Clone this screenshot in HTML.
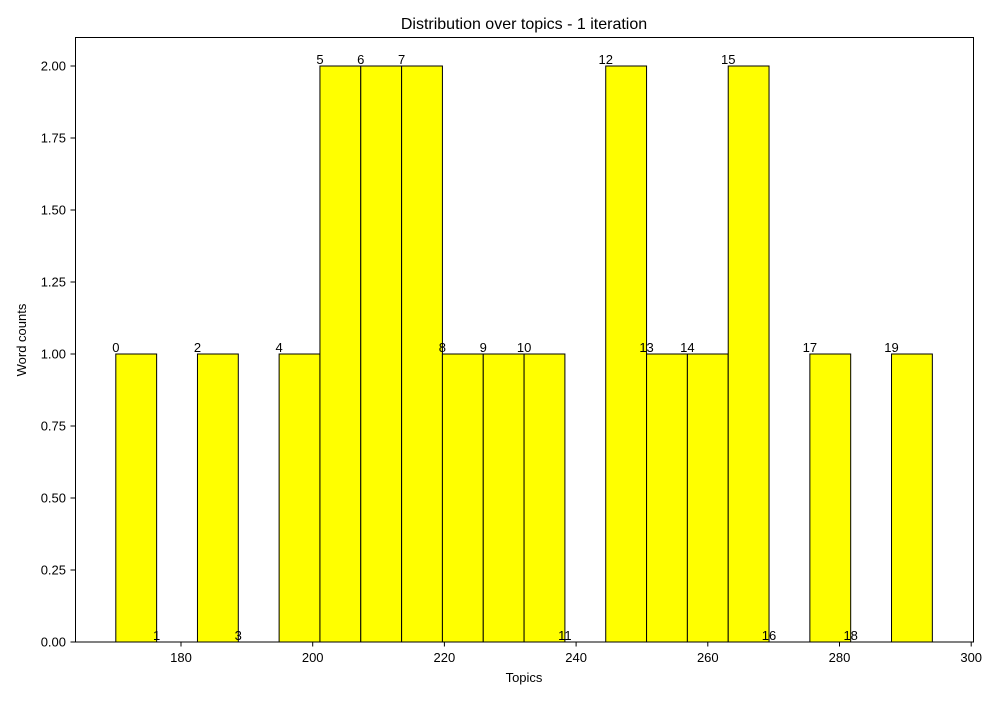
<!DOCTYPE html>
<html><head><meta charset="utf-8"><style>
body{margin:0;background:#fff;font-family:"Liberation Sans","DejaVu Sans",sans-serif}
svg text{font-family:"Liberation Sans","DejaVu Sans",sans-serif;font-size:13px;fill:#000}
</style></head><body>
<svg id="chart" width="1000" height="700" xmlns="http://www.w3.org/2000/svg">
<rect width="1000" height="700" fill="#fff"/>
<text x="524" y="29" text-anchor="middle" style="font-size:16px">Distribution over topics - 1 iteration</text>
<g id="bars"></g>
<g id="labels"></g>
<g id="xaxis"></g>
<g id="yaxis"></g>
<rect x="75.5" y="37.5" width="898" height="604.5" fill="none" stroke="#000" stroke-width="1"/>
<text x="524" y="682" text-anchor="middle">Topics</text>
<text transform="translate(26,340) rotate(-90)" text-anchor="middle">Word counts</text>
</svg>
<script>
const binStart = 170.1;
const binWidth = 6.2;
const topics = [0,1,2,3,4,5,6,7,8,9,10,11,12,13,14,15,16,17,18,19];
const counts = [1,0,1,0,1,2,2,2,1,1,1,0,2,1,1,2,0,1,0,1];
const xTicks = [180,200,220,240,260,280,300];
const yTicks = [0,0.25,0.5,0.75,1,1.25,1.5,1.75,2];
const NS = "http://www.w3.org/2000/svg";
function xs(v){return 181 + (v-180)*6.585;}
function ys(v){return 642 - v*288;}
function mk(tag, attrs, parent){const e=document.createElementNS(NS,tag);for(const k in attrs)e.setAttribute(k,attrs[k]);document.getElementById(parent).appendChild(e);return e;}
counts.forEach((c,i)=>{
  const x0=xs(binStart+i*binWidth), x1=xs(binStart+(i+1)*binWidth);
  if(c>0){
    const r=mk('rect',{x:x0,y:ys(c),width:x1-x0,height:ys(0)-ys(c),fill:'#ffff00',stroke:'#000','stroke-width':1},'bars');
    
    
  }
  const t=mk('text',{x:x0,y:ys(c)-2,'text-anchor':'middle'},'labels');
  t.textContent=topics[i];
  
  
});
xTicks.forEach(v=>{
  const x=xs(v);
  mk('line',{x1:x,x2:x,y1:642,y2:646.5,stroke:'#000'},'xaxis');
  const t=mk('text',{x:x,y:662,'text-anchor':'middle'},'xaxis');
  t.textContent=v;
  
  
});
yTicks.forEach(v=>{
  const y=ys(v);
  mk('line',{x1:70.5,x2:75,y1:y,y2:y,stroke:'#000'},'yaxis');
  const t=mk('text',{x:66,y:y+4.5,'text-anchor':'end'},'yaxis');
  t.textContent=v.toFixed(2);
  
  
});
</script>
</body></html>
